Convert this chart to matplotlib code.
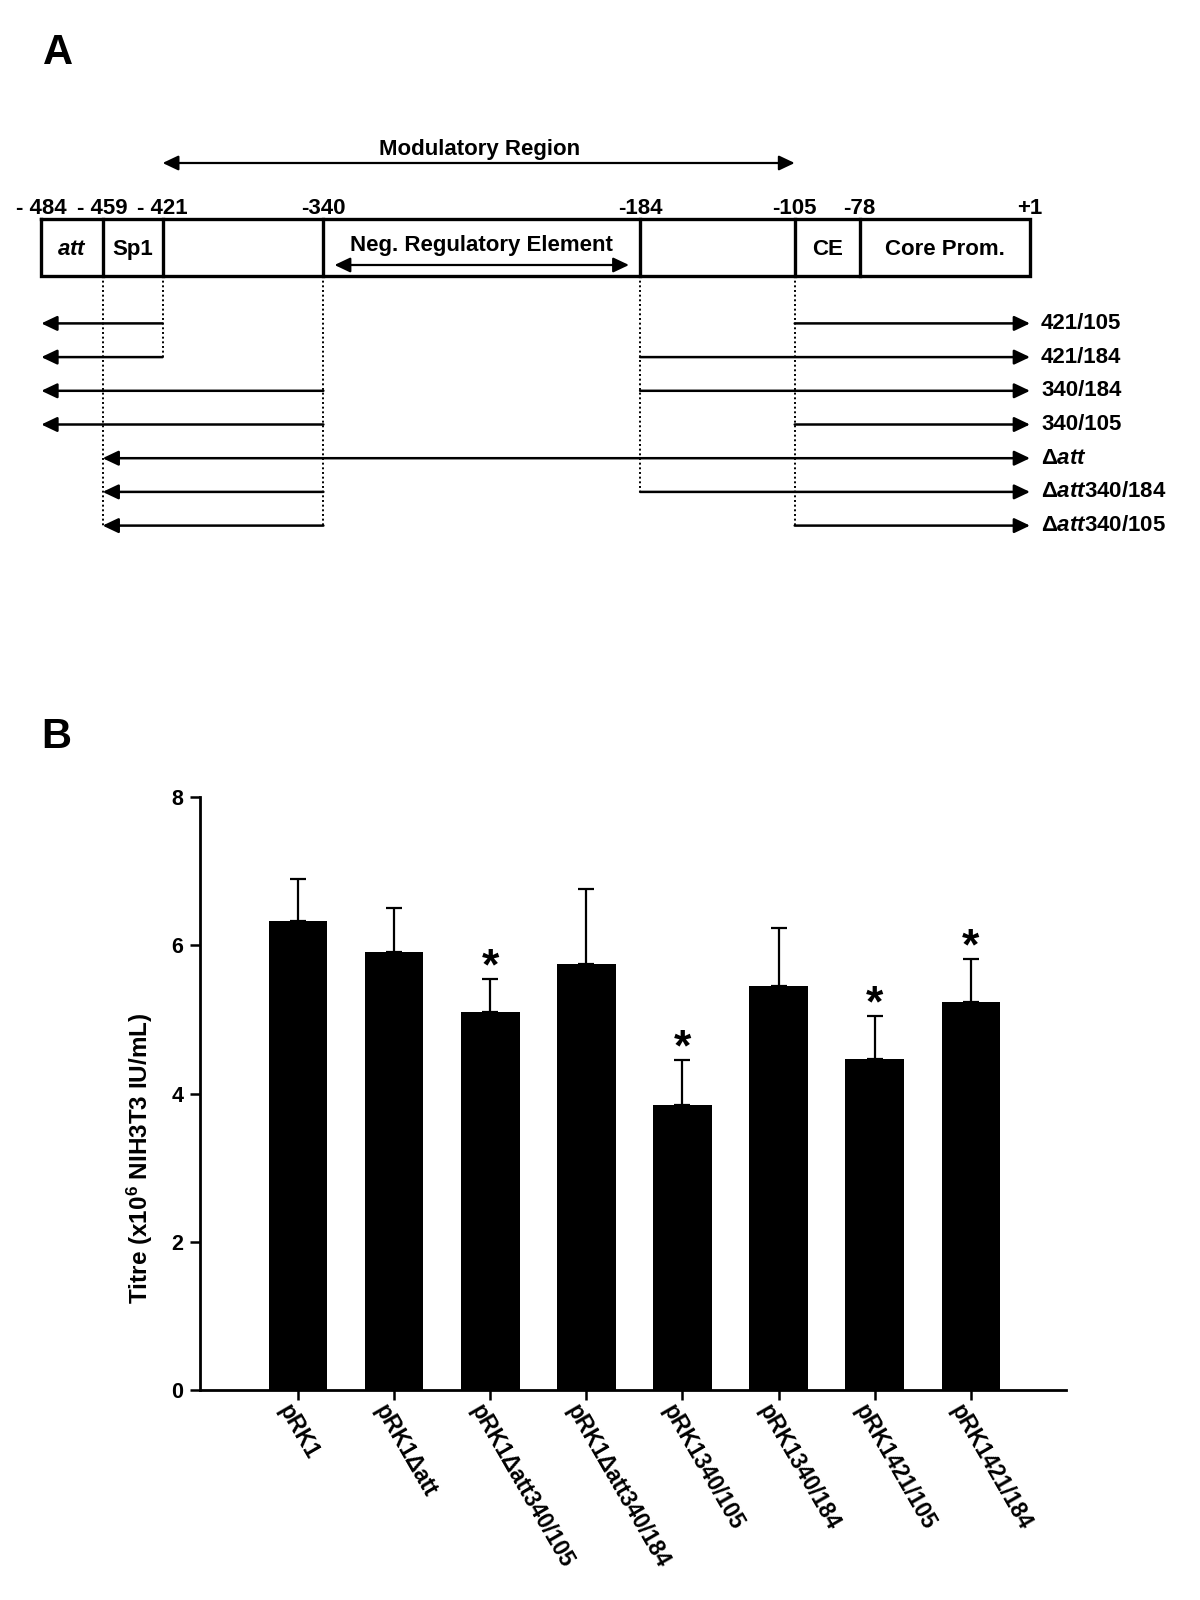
import numpy as np
import matplotlib.pyplot as plt

plt.rcParams['font.family'] = ['Liberation Sans', 'DejaVu Sans']
plt.rcParams['font.weight'] = 'bold'
plt.rcParams['axes.labelweight'] = 'bold'
plt.rcParams['mathtext.fontset'] = 'custom'
plt.rcParams['mathtext.rm'] = 'Liberation Sans:bold'
plt.rcParams['mathtext.it'] = 'Liberation Sans:italic:bold'
plt.rcParams['mathtext.bf'] = 'Liberation Sans:bold'

# ---- panel A: promoter map and deletion constructs ----
sites = [-484, -459, -421, -340, -184, -105, -78, 1]
site_labels = ['- 484', '- 459', '- 421', '-340', '-184', '-105', '-78', '+1']
segment_labels = [r'$\mathit{att}$', 'Sp1', '', 'Neg. Regulatory Element', '', 'CE', 'Core Prom.']
modulatory = (-421, -105)
neg_element = (-340, -184)

construct_names = ['421/105', '421/184', '340/184', '340/105', r'Δ$\mathit{att}$',
                   r'Δ$\mathit{att}$340/184', r'Δ$\mathit{att}$340/105']
five_prime = [-484, -484, -484, -484, -459, -459, -459]
del_start = [-421, -421, -340, -340, None, -340, -340]
del_end = [-105, -184, -184, -105, None, -184, -105]

# ---- panel B: titres ----
plasmids = ['pRK1', 'pRK1Δatt', 'pRK1Δatt340/105', 'pRK1Δatt340/184',
            'pRK1340/105', 'pRK1340/184', 'pRK1421/105', 'pRK1421/184']
titre = [6.33, 5.91, 5.10, 5.75, 3.84, 5.45, 4.47, 5.23]
sem = [0.57, 0.59, 0.45, 1.01, 0.61, 0.78, 0.58, 0.59]
significant = [False, False, True, False, True, False, True, True]

fig = plt.figure(figsize=(12, 16), dpi=100)

# the map is not drawn to scale: each segment gets its own width (pixels)
drawn_px = [41.3, 102.6, 162.6, 323.4, 640.1, 794.7, 859.6, 1030.0]
fwd = lambda v: np.interp(v, sites, drawn_px)
inv = lambda v: np.interp(v, drawn_px, sites)

axA = fig.add_axes([drawn_px[0] / 1200, 0.6, (drawn_px[-1] - drawn_px[0]) / 1200, 0.4])
axA.set_xscale('function', functions=(fwd, inv))
axA.set_xlim(sites[0], sites[-1])
axA.set_ylim(640, 0)  # y in pixels from the top of the figure
axA.axis('off')

y_mod_text, y_mod_arrow = 150, 163
y_sites = 208
box_top, box_bot = 219, 275.5
y_box_text, y_neg_text, y_neg_arrow = 249.5, 245, 265
row0, row_step = 323.4, 33.7
rows_y = row0 + row_step * np.arange(len(construct_names))


def arrow(x0, x1, y, style='-|>', lw=1.8, shrink=0):
    axA.annotate('', xy=(x1, y), xytext=(x0, y), annotation_clip=False,
                 arrowprops=dict(arrowstyle=f'{style},head_length=0.95,head_width=0.45',
                                 mutation_scale=10, lw=lw, color='k',
                                 shrinkA=shrink, shrinkB=shrink))


# modulatory region
axA.text(np.mean(modulatory), y_mod_text, 'Modulatory Region', ha='center', va='center', fontsize=16)
arrow(modulatory[0], modulatory[1], y_mod_arrow, style='<|-|>', lw=1.6)

# site numbers
for s, lab in zip(sites, site_labels):
    axA.text(s, y_sites, lab, ha='center', va='center', fontsize=16)

# box with dividers
axA.plot([sites[0], sites[-1], sites[-1], sites[0], sites[0]],
         [box_top, box_top, box_bot, box_bot, box_top], color='k', lw=2.4,
         solid_joinstyle='miter', clip_on=False)
for s in sites[1:-1]:
    axA.plot([s, s], [box_top, box_bot], color='k', lw=2.4, clip_on=False)
for a, b, lab in zip(sites[:-1], sites[1:], segment_labels):
    if not lab:
        continue
    yy = y_neg_text if (a, b) == neg_element else y_box_text
    axA.text((a + b) / 2, yy, lab, ha='center', va='center', fontsize=16)
arrow(neg_element[0], neg_element[1], y_neg_arrow, style='<|-|>', lw=1.6, shrink=8)

# dotted guides down to the lowest construct that uses each site
for s in sites[1:-1]:
    used = [i for i in range(len(construct_names))
            if (five_prime[i] == s) or (del_start[i] == s) or (del_end[i] == s)]
    if used:
        axA.plot([s, s], [box_bot, rows_y[max(used)]], color='k', lw=1.4, ls=(0, (1, 1.4)))

# constructs
for i, name in enumerate(construct_names):
    y = rows_y[i]
    if del_start[i] is None:
        arrow(five_prime[i], sites[-1], y, style='<|-|>')
    else:
        arrow(del_start[i], five_prime[i], y)
        arrow(del_end[i], sites[-1], y)
    axA.annotate(name, xy=(sites[-1], y), xytext=(8, 0), textcoords='offset points',
                 ha='left', va='center', fontsize=16, annotation_clip=False)

# ---- bar chart ----
axB = fig.add_axes([200 / 1200, 1 - 1390 / 1600, 866 / 1200, 593 / 1600])
x = np.arange(len(plasmids))
axB.bar(x, titre, width=0.61, color='k', zorder=2)
axB.errorbar(x, titre, yerr=[np.zeros(len(x)), sem], fmt='none', ecolor='k',
             elinewidth=1.6, capsize=6, capthick=1.6, zorder=3)
for i in x:
    if significant[i]:
        axB.annotate('*', xy=(i, titre[i] + sem[i]), xytext=(0, 8), textcoords='offset points',
                     ha='center', va='center', fontsize=32)

axB.set_xlim(-1.02, 7.99)
axB.set_ylim(0, 8)
axB.set_yticks([0, 2, 4, 6, 8])
axB.set_yticklabels(['0', '2', '4', '6', '8'], fontsize=15.5, fontweight='bold')
axB.set_xticks(x)
axB.set_xticklabels([])
# slanted category labels, hung just below each tick
for i, name in zip(x, plasmids):
    axB.annotate(name, xy=(i, 0), xycoords=('data', 'axes fraction'), xytext=(-3.6, -7.2),
                 textcoords='offset points', rotation=-60, rotation_mode='anchor',
                 ha='left', va='top', fontsize=16.3, annotation_clip=False)
axB.tick_params(axis='y', length=7, width=1.8, pad=5)
axB.tick_params(axis='x', length=7, width=1.8)
for side in ['top', 'right']:
    axB.spines[side].set_visible(False)
for side in ['left', 'bottom']:
    axB.spines[side].set_linewidth(2)
axB.set_ylabel(r'Titre (x10$^{6}$ NIH3T3 IU/mL)', fontsize=17.5, fontweight='bold')
axB.yaxis.set_label_coords(-0.052, 0.391)

fig.text(58 / 1200, 1 - 53 / 1600, 'A', fontsize=30, ha='center', va='center')
fig.text(56 / 1200, 1 - 737 / 1600, 'B', fontsize=30, ha='center', va='center')

fig.savefig('out.png', dpi=100)
